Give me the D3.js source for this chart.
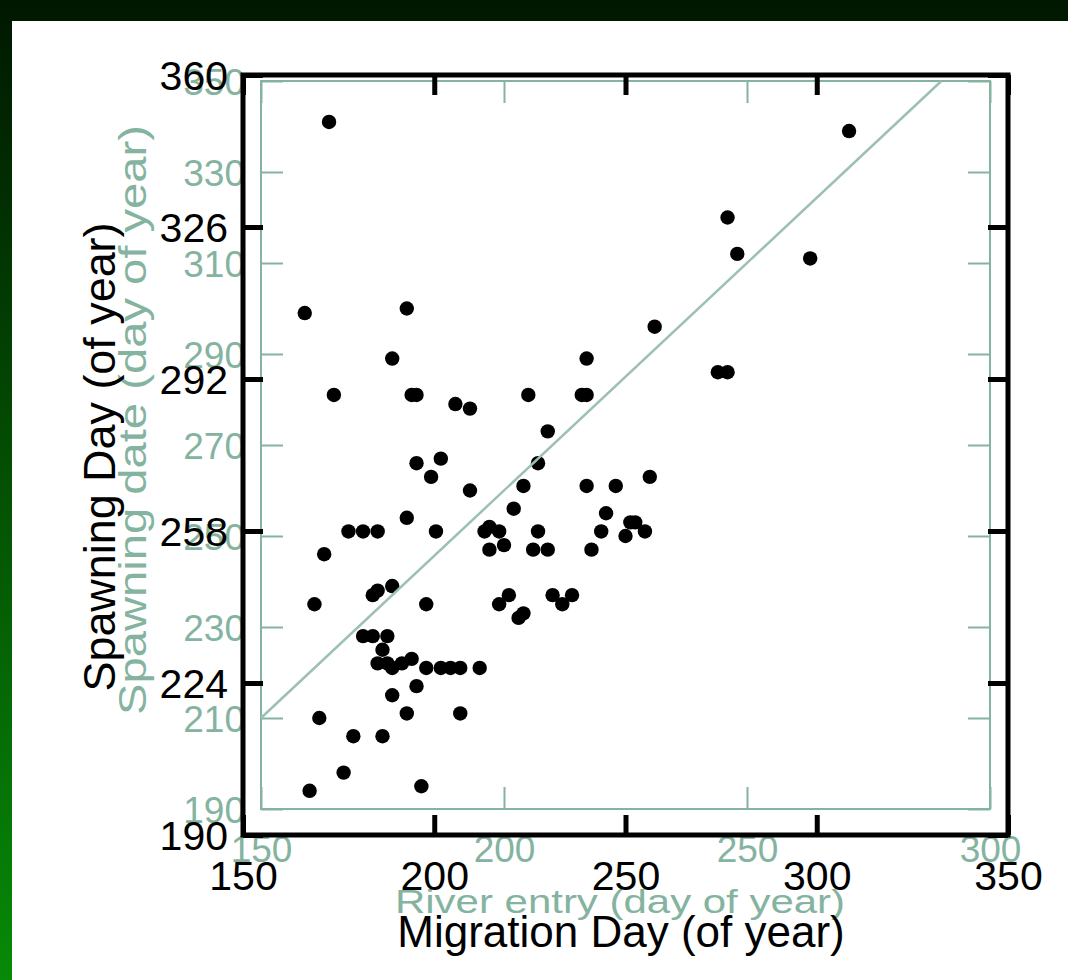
<!DOCTYPE html>
<html>
<head>
<meta charset="utf-8">
<script src="https://cdn.jsdelivr.net/npm/d3@7"></script>
<style>
  body { margin: 0; background: #fff; }
  svg { display: block; font-family: "Liberation Sans", Arial, sans-serif; }
</style>
</head>
<body>
<div id="container"></div>
<script>
/* DATA (in river entry / spawning date units) */
const riverEntry = [164, 159, 180, 177, 217, 165, 181, 182, 190, 193, 205, 216, 217, 209,
  271, 246, 248, 263, 231, 244, 246,
  182, 187, 185, 193, 207, 204, 217, 223, 202, 221, 180, 168, 171, 174, 186, 196, 197, 199,
  200, 197, 207, 206, 209, 220, 218, 230, 226, 227, 225, 229,
  163, 161, 173, 174, 177, 184, 201, 199, 204, 203, 210, 214, 212,
  171, 173, 176, 175, 174, 176, 177, 179, 181, 184, 187, 189, 191, 195,
  182, 177, 162, 180, 191, 169, 175, 167, 160, 183];
const spawnDate = [341, 299, 300, 289, 289, 281, 281, 281, 279, 278, 281, 281, 281, 273,
  339, 320, 312, 311, 296, 286, 286,
  266, 267, 263, 260, 266, 261, 261, 261, 256, 255, 254, 251, 251, 251, 251, 251, 252, 251,
  248, 247, 251, 247, 247, 251, 247, 263, 253, 253, 250, 251,
  246, 235, 237, 238, 239, 235, 237, 235, 233, 232, 237, 237, 235,
  228, 228, 228, 225, 222, 222, 221, 222, 223, 221, 221, 221, 221, 221,
  217, 215, 210, 211, 211, 206, 206, 198, 194, 195];

// fitted line (river entry -> spawning date)
const fitX = [150, 290];
const fitY = [210, 350];

// black overlay axes
const migTicks = [150, 200, 250, 300, 350];
const spawnDayTicks = [190, 224, 258, 292, 326, 360];
// gray original axes
const entryTicks = [150, 200, 250, 300];
const spawnDateTicks = [190, 210, 230, 250, 270, 290, 310, 330, 350];

const width = 1068, height = 980;
const gray = "#84b3a0";

const svg = d3.select("#container").append("svg")
  .attr("width", width)
  .attr("height", height);

// background gradient + white panel
const grad = svg.append("defs").append("linearGradient")
  .attr("id", "bg").attr("x1", 0).attr("y1", 0).attr("x2", 0).attr("y2", 1);
grad.append("stop").attr("offset", "0%").attr("stop-color", "#001800");
grad.append("stop").attr("offset", "100%").attr("stop-color", "#078a07");
svg.append("rect").attr("width", width).attr("height", height).attr("fill", "url(#bg)");
svg.append("rect").attr("x", 12).attr("y", 21).attr("width", width - 12).attr("height", height - 21).attr("fill", "#fff");

/* SCALES */
// gray (river entry / spawning date)
const gx = d3.scaleLinear().domain([150, 300]).range([261, 990]);
const gy = d3.scaleLinear().domain([190, 350]).range([809, 81]);
// black (migration day / spawning day)
const bx = d3.scaleLinear().domain([150, 350]).range([243, 1008]);
const by = d3.scaleLinear().domain([190, 360]).range([835, 75]);

/* GRAY AXES */
function styleGray(g) {
  g.select(".domain").remove();
  g.selectAll(".tick line").attr("stroke", gray).attr("stroke-width", 2);
  g.selectAll(".tick text").attr("fill", gray).attr("font-size", 37);
}
svg.append("g").attr("transform", `translate(0,${gy.range()[0]})`)
  .call(d3.axisBottom(gx).tickValues(entryTicks).tickSize(-22))
  .call(styleGray)
  .call(g => g.selectAll(".tick text").attr("y", 0).attr("dy", 0).attr("transform", "translate(0,53)"));
svg.append("g").attr("transform", `translate(0,${gy.range()[1]})`)
  .call(d3.axisTop(gx).tickValues(entryTicks).tickSize(-22).tickFormat(""))
  .call(styleGray);
svg.append("g").attr("transform", `translate(${gx.range()[0]},0)`)
  .call(d3.axisLeft(gy).tickValues(spawnDateTicks).tickSize(-22).tickPadding(16))
  .call(styleGray)
  .call(g => g.selectAll(".tick text").attr("dy", "0.36em"));
svg.append("g").attr("transform", `translate(${gx.range()[1]},0)`)
  .call(d3.axisRight(gy).tickValues(spawnDateTicks).tickSize(-22).tickFormat(""))
  .call(styleGray);
svg.append("rect")
  .attr("x", gx.range()[0]).attr("y", gy.range()[1])
  .attr("width", gx.range()[1] - gx.range()[0]).attr("height", gy.range()[0] - gy.range()[1])
  .attr("fill", "none").attr("stroke", gray).attr("stroke-width", 2);

svg.append("text")
  .attr("x", 620).attr("y", 913)
  .attr("text-anchor", "middle")
  .attr("font-size", 34).attr("fill", gray)
  .attr("textLength", 450).attr("lengthAdjust", "spacingAndGlyphs")
  .text("River entry (day of year)");
svg.append("text")
  .attr("transform", "translate(146,420) rotate(-90)")
  .attr("text-anchor", "middle")
  .attr("font-size", 38).attr("fill", gray)
  .attr("textLength", 590).attr("lengthAdjust", "spacingAndGlyphs")
  .text("Spawning date (day of year)");

/* POINTS */
const pts = riverEntry.map((d, i) => ({ x: d, y: spawnDate[i] }));
svg.selectAll(".dot")
  .data(pts)
  .join("circle")
  .attr("class", "dot")
  .attr("cx", d => gx(d.x))
  .attr("cy", d => gy(d.y))
  .attr("r", 7.2)
  .attr("fill", "#000");

/* FIT LINE */
const lineGen = d3.line().x(d => gx(d[0])).y(d => gy(d[1]));
svg.append("path")
  .datum(fitX.map((d, i) => [d, fitY[i]]))
  .attr("d", lineGen)
  .attr("fill", "none")
  .attr("stroke", "#9cc0b3")
  .attr("stroke-width", 2.5);

/* BLACK AXES */
function styleBlack(g) {
  g.select(".domain").remove();
  g.selectAll(".tick line").attr("stroke", "#000").attr("stroke-width", 5);
  g.selectAll(".tick text").attr("fill", "#000").attr("font-size", 41);
}
svg.append("g").attr("transform", `translate(0,${by.range()[0]})`)
  .call(d3.axisBottom(bx).tickValues(migTicks).tickSize(-20))
  .call(styleBlack)
  .call(g => g.selectAll(".tick text").attr("y", 0).attr("dy", 0).attr("transform", "translate(0,55)"));
svg.append("g").attr("transform", `translate(0,${by.range()[1]})`)
  .call(d3.axisTop(bx).tickValues(migTicks).tickSize(-20).tickFormat(""))
  .call(styleBlack);
svg.append("g").attr("transform", `translate(${bx.range()[0]},0)`)
  .call(d3.axisLeft(by).tickValues(spawnDayTicks).tickSize(-20).tickPadding(15))
  .call(styleBlack)
  .call(g => g.selectAll(".tick text").attr("dy", "0.36em"));
svg.append("g").attr("transform", `translate(${bx.range()[1]},0)`)
  .call(d3.axisRight(by).tickValues(spawnDayTicks).tickSize(-20).tickFormat(""))
  .call(styleBlack);
svg.append("rect")
  .attr("x", bx.range()[0]).attr("y", by.range()[1])
  .attr("width", bx.range()[1] - bx.range()[0]).attr("height", by.range()[0] - by.range()[1])
  .attr("fill", "none").attr("stroke", "#000").attr("stroke-width", 5);

svg.append("text")
  .attr("x", 621).attr("y", 947)
  .attr("text-anchor", "middle")
  .attr("font-size", 44).attr("fill", "#000")
  .text("Migration Day (of year)");
svg.append("text")
  .attr("transform", "translate(115,457) rotate(-90)")
  .attr("text-anchor", "middle")
  .attr("font-size", 44).attr("fill", "#000")
  .attr("textLength", 469).attr("lengthAdjust", "spacingAndGlyphs")
  .text("Spawning Day (of year)");
</script>
</body>
</html>
